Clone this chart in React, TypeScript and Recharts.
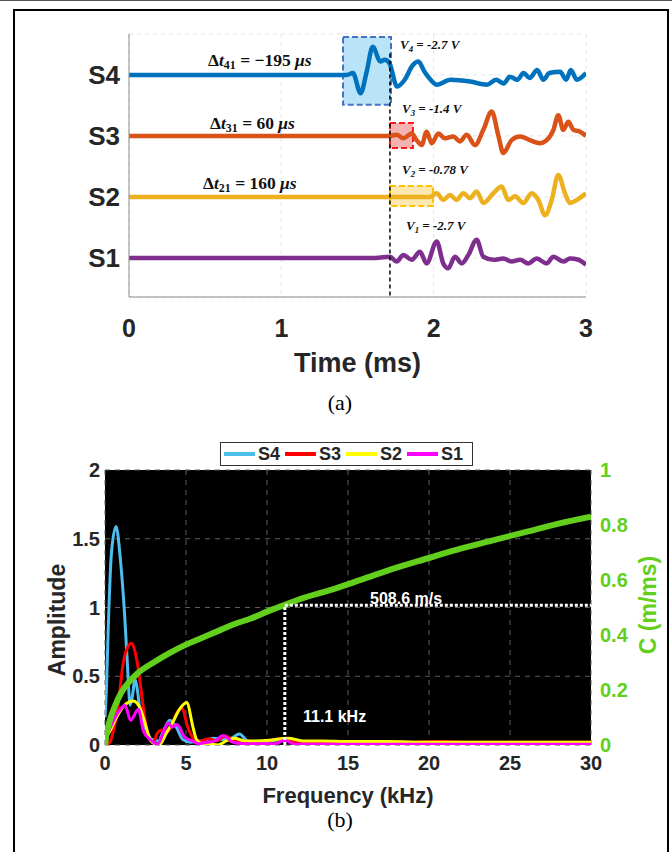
import React from "react";
import {
  CartesianGrid,
  ComposedChart,
  Label,
  Line,
  LineChart,
  ReferenceArea,
  ReferenceLine,
  XAxis,
  YAxis,
} from "recharts";

const SANS = "'Liberation Sans', Arial, sans-serif";
const SERIF = "'Liberation Serif', 'Times New Roman', serif";
const INK = "#262626";

// (a) sensor traces, time in ms, amplitude in trace-spacing units
const S4_T = [0, 1.43, 1.47, 1.52, 1.56, 1.6, 1.65, 1.68, 1.71, 1.76, 1.81, 1.86, 1.9, 1.94, 1.98, 2.02, 2.11, 2.24, 2.35, 2.41, 2.46, 2.5, 2.55, 2.59, 2.63, 2.68, 2.72, 2.76, 2.83, 2.87, 2.9, 2.94, 3.0];
const S4_V = [0, 0, 0.03, -0.3, 0.05, 0.46, 0.22, 0.25, 0.19, -0.19, -0.08, 0.15, 0.22, 0.05, -0.08, -0.16, -0.08, -0.11, -0.16, -0.08, -0.14, -0.03, -0.08, 0.03, -0.05, 0.08, -0.08, 0.03, 0.05, -0.08, 0.08, -0.08, 0.03];
const S3_T = [0, 1.713, 1.757, 1.801, 1.856, 1.888, 1.921, 1.954, 1.987, 2.031, 2.074, 2.129, 2.173, 2.217, 2.271, 2.326, 2.381, 2.425, 2.457, 2.512, 2.567, 2.632, 2.698, 2.742, 2.786, 2.818, 2.851, 2.884, 2.917, 2.961, 3.0];
const S3_V = [0, 0, 0.02, -0.04, 0.04, -0.07, -0.15, 0.07, -0.12, 0.04, -0.04, -0.01, -0.09, 0.02, -0.15, 0.1, 0.4, 0, -0.28, -0.07, -0.01, -0.07, -0.12, -0.07, 0.1, 0.34, 0.1, 0.23, 0.1, 0.07, 0];
const S2_T = [0, 1.976, 2.02, 2.063, 2.107, 2.151, 2.195, 2.239, 2.282, 2.326, 2.392, 2.446, 2.49, 2.534, 2.589, 2.643, 2.687, 2.731, 2.775, 2.818, 2.862, 2.895, 2.939, 3.0];
const S2_V = [0, 0, 0.06, -0.05, 0.03, -0.05, 0.06, -0.02, 0.09, -0.1, 0.06, 0.17, -0.05, 0.01, -0.1, 0.06, -0.05, -0.3, -0.05, 0.36, 0.06, -0.1, -0.05, 0.06];
const S1_T = [0, 1.62, 1.713, 1.757, 1.801, 1.856, 1.91, 1.954, 2.02, 2.063, 2.096, 2.14, 2.184, 2.228, 2.282, 2.326, 2.392, 2.457, 2.512, 2.567, 2.621, 2.676, 2.742, 2.786, 2.851, 2.895, 2.95, 3.0];
const S1_V = [0, 0, 0.02, -0.06, 0.05, -0.03, 0.1, -0.09, 0.27, -0.09, -0.17, 0.02, -0.09, 0.05, 0.3, 0.02, -0.03, -0.01, -0.06, -0.03, -0.09, -0.01, -0.09, 0.02, -0.06, -0.01, -0.03, -0.11];

const TIME_TICKS = [0, 1, 2, 3];
const TRACE_TICKS = [1, 2, 3, 4];
const TRACE_NAMES = ["S1", "S2", "S3", "S4"];
const ARRIVAL_T = 1.713;

// (b) spectra, frequency in kHz
const S4_F = [0, 0.1, 0.2, 0.4, 0.68, 0.95, 1.23, 1.4, 1.55, 1.7, 1.85, 2.0, 2.16, 2.57, 2.9, 3.3, 3.6, 4.0, 4.4, 4.8, 5.3, 6.0, 6.7, 7.3, 7.8, 8.3, 8.8, 9.5, 10.3, 11.0, 11.6, 12.5, 14, 16, 19, 23, 27, 30];
const S4_A = [0.2, 0.45, 0.85, 1.4, 1.59, 1.35, 0.91, 0.55, 0.29, 0.36, 0.48, 0.4, 0.25, 0.1, 0.04, 0.03, 0.1, 0.18, 0.13, 0.04, 0.02, 0.03, 0.05, 0.04, 0.05, 0.08, 0.03, 0.02, 0.03, 0.04, 0.03, 0.02, 0.02, 0.015, 0.01, 0.01, 0.01, 0.01];
const S3_F = [0, 0.3, 0.55, 0.82, 1.13, 1.4, 1.65, 1.85, 2.06, 2.37, 2.67, 3.0, 3.2, 3.5, 3.8, 4.1, 4.42, 4.73, 5.14, 5.45, 5.9, 6.4, 6.9, 7.4, 7.9, 8.5, 9.2, 10.0, 10.8, 11.5, 12.5, 14, 16, 18, 20.5, 23, 26, 30];
const S3_A = [0, 0.02, 0.12, 0.3, 0.6, 0.71, 0.74, 0.68, 0.55, 0.27, 0.06, 0.02, 0.08, 0.11, 0.09, 0.14, 0.23, 0.27, 0.12, 0.05, 0.03, 0.045, 0.03, 0.065, 0.04, 0.03, 0.025, 0.03, 0.045, 0.025, 0.02, 0.025, 0.02, 0.02, 0.025, 0.02, 0.02, 0.02];
const S2_F = [0, 0.3, 0.62, 1.13, 1.75, 2.16, 2.47, 2.78, 3.05, 3.35, 3.8, 4.2, 4.6, 5.04, 5.45, 5.65, 6.0, 6.5, 6.95, 7.5, 8.0, 8.6, 9.3, 10.2, 11.3, 12.2, 13.5, 15, 17.5, 20, 23, 26, 30];
const S2_A = [0.05, 0.1, 0.18, 0.28, 0.32, 0.27, 0.16, 0.04, 0.01, 0, 0.09, 0.17, 0.26, 0.31, 0.12, 0.04, 0.01, 0.01, 0, 0.03, 0.05, 0.03, 0.03, 0.035, 0.05, 0.03, 0.03, 0.025, 0.025, 0.02, 0.02, 0.02, 0.02];
const S1_F = [0, 0.3, 0.62, 0.95, 1.23, 1.58, 2.06, 2.37, 2.78, 3.25, 3.6, 3.9, 4.15, 4.45, 4.9, 5.4, 5.8, 6.3, 6.8, 7.3, 7.9, 8.5, 9.5, 10.5, 11.1, 11.7, 13, 15, 18, 22, 26, 30];
const S1_A = [0.04, 0.12, 0.2, 0.26, 0.29, 0.18, 0.26, 0.1, 0.04, 0.005, 0.09, 0.16, 0.13, 0.15, 0.06, 0.03, 0.01, 0.02, 0.03, 0.07, 0.02, 0.01, 0.01, 0.01, 0.035, 0.005, 0.005, 0.005, 0.005, 0.005, 0.005, 0.005];
// phase velocity C (m/ms)
const C_F = [0, 0.1, 0.3, 0.6, 1, 1.5, 2, 3, 4, 5, 6, 7, 8, 9, 10, 11.1, 12, 14, 16, 18, 20, 22, 24, 26, 28, 30];
const C_V = [0, 0.04, 0.09, 0.14, 0.19, 0.23, 0.26, 0.3, 0.335, 0.365, 0.39, 0.415, 0.44, 0.46, 0.485, 0.51, 0.53, 0.565, 0.605, 0.645, 0.68, 0.715, 0.745, 0.775, 0.805, 0.83];

const FREQ_TICKS = [0, 5, 10, 15, 20, 25, 30];
const AMP_TICKS = [0, 0.5, 1, 1.5, 2];
const C_TICKS = [0, 0.2, 0.4, 0.6, 0.8, 1];
const CUT_F = 11.1;
const CUT_C = 0.5086;

const GREEN = "#62cf1c";

const trace = (t: number[], v: number[], level: number) =>
  t.map((x, i) => ({ t: x, y: level + v[i] }));
const spec = (f: number[], a: number[]) => f.map((x, i) => ({ f: x, a: a[i] }));

const traces = [
  { name: "S4", color: "#0072bd", data: trace(S4_T, S4_V, 4) },
  { name: "S3", color: "#d95319", data: trace(S3_T, S3_V, 3) },
  { name: "S2", color: "#edb120", data: trace(S2_T, S2_V, 2) },
  { name: "S1", color: "#7e2f8e", data: trace(S1_T, S1_V, 1) },
];

const spectra = [
  { name: "S4", color: "#4dbeee", data: spec(S4_F, S4_A) },
  { name: "S3", color: "#ff0000", data: spec(S3_F, S3_A) },
  { name: "S2", color: "#ffff00", data: spec(S2_F, S2_A) },
  { name: "S1", color: "#ff00ff", data: spec(S1_F, S1_A) },
];
const speed = C_F.map((x, i) => ({ f: x, c: C_V[i] }));

function Txt({ x, y, children, style }: any) {
  return (
    <div
      style={{
        position: "absolute",
        left: x,
        top: y,
        transform: "translateY(-50%)",
        whiteSpace: "nowrap",
        lineHeight: 1,
        ...style,
      }}
    >
      {children}
    </div>
  );
}

function Rot({ x, y, children, style }: any) {
  return (
    <div
      style={{
        position: "absolute",
        left: x,
        top: y,
        transform: "translate(-50%, -50%) rotate(-90deg)",
        whiteSpace: "nowrap",
        lineHeight: 1,
        ...style,
      }}
    >
      {children}
    </div>
  );
}

const deltaStyle = { fontFamily: SERIF, fontWeight: 700, fontSize: 17.5, color: "#111" };
const voltStyle = { fontFamily: SERIF, fontWeight: 700, fontStyle: "italic", fontSize: 13, color: "#111" };
const subStyle = { fontSize: "0.68em", verticalAlign: "-0.3em" };

function Delta({ sub, value }: { sub: string; value: string }) {
  return (
    <span>
      Δ<i>t</i>
      <span style={subStyle}>{sub}</span> = {value} <i>μs</i>
    </span>
  );
}

function Volt({ sub, value }: { sub: string; value: string }) {
  return (
    <span>
      V<span style={subStyle}>{sub}</span> = {value} V
    </span>
  );
}

export default function App() {
  const tickA = { fontSize: 25, fontWeight: 700, fill: INK, fontFamily: SANS };
  const tickB = { fontSize: 20, fontWeight: 700, fill: INK, fontFamily: SANS };

  return (
    <div
      style={{
        position: "absolute",
        left: 0,
        top: 0,
        width: 672,
        height: 852,
        background: "#fff",
        overflow: "hidden",
      }}
    >
      <div style={{ position: "absolute", left: 0, top: 0, width: 672, height: 1, background: "#555" }} />
      <div
        style={{
          position: "absolute",
          left: 13,
          top: 9,
          width: 656,
          height: 900,
          border: "2px solid #000",
          boxSizing: "border-box",
        }}
      />

      {/* (a) time traces */}
      <div style={{ position: "absolute", left: 0, top: 0 }}>
        <LineChart width={600} height={380} margin={{ top: 34, right: 14, bottom: 3, left: 69 }}>
          <CartesianGrid stroke="#e4e4e4" strokeDasharray="4 4" />
          <XAxis
            type="number"
            dataKey="t"
            domain={[0, 3]}
            ticks={TIME_TICKS}
            allowDataOverflow
            tickLine={false}
            tickSize={6}
            tickMargin={16}
            axisLine={{ stroke: "#8c8c8c" }}
            tick={tickA}
            height={80}
          >
            <Label
              value="Time (ms)"
              position="insideBottom"
              offset={5}
              fontSize={27}
              fontWeight={700}
              fill={INK}
              fontFamily={SANS}
            />
          </XAxis>
          <YAxis
            type="number"
            domain={[0.36, 4.67]}
            ticks={TRACE_TICKS}
            allowDataOverflow
            tickFormatter={(v: number) => TRACE_NAMES[v - 1]}
            width={60}
            tickLine={false}
            tickSize={4}
            tickMargin={5}
            axisLine={{ stroke: "#8c8c8c" }}
            tick={{ ...tickA, fontSize: 26 }}
          />
          <ReferenceArea x1={1.405} x2={1.72} y1={3.51} y2={4.62} fill="#b9e3f6" fillOpacity={1} stroke="#4472c4" strokeWidth={2} strokeDasharray="6 3" />
          <ReferenceArea x1={ARRIVAL_T} x2={1.864} y1={2.8} y2={3.21} fill="#f4b3b3" fillOpacity={1} stroke="#ff1a1a" strokeWidth={2} strokeDasharray="6 3" />
          <ReferenceArea x1={ARRIVAL_T} x2={1.996} y1={1.85} y2={2.18} fill="#fde9b0" fillOpacity={1} stroke="#ffc000" strokeWidth={2} strokeDasharray="6 3" />
          {traces.map((s) => (
            <Line
              key={s.name}
              data={s.data}
              dataKey="y"
              type="monotone"
              stroke={s.color}
              strokeWidth={4.5}
              dot={false}
              isAnimationActive={false}
            />
          ))}
          <ReferenceLine
            segment={[
              { x: ARRIVAL_T, y: 4.35 },
              { x: ARRIVAL_T, y: 0.36 },
            ]}
            stroke="#000"
            strokeWidth={1.5}
            strokeDasharray="4 3"
          />
        </LineChart>
      </div>

      <Txt x={208} y={62} style={deltaStyle}><Delta sub="41" value="−195" /></Txt>
      <Txt x={210} y={125} style={deltaStyle}><Delta sub="31" value="60" /></Txt>
      <Txt x={203} y={185} style={deltaStyle}><Delta sub="21" value="160" /></Txt>
      <Txt x={400} y={46} style={voltStyle}><Volt sub="4" value="-2.7" /></Txt>
      <Txt x={402} y={110} style={voltStyle}><Volt sub="3" value="-1.4" /></Txt>
      <Txt x={402} y={171} style={voltStyle}><Volt sub="2" value="-0.78" /></Txt>
      <Txt x={406} y={227} style={voltStyle}><Volt sub="1" value="-2.7" /></Txt>

      <div style={{ position: "absolute", left: 300, width: 80, top: 390, textAlign: "center", fontFamily: SERIF, fontSize: 22, lineHeight: "26px" }}>
        (a)
      </div>

      {/* (b) spectra and phase velocity */}
      <div style={{ position: "absolute", left: 0, top: 440 }}>
        <ComposedChart width={672} height={412} margin={{ top: 30, right: 21, bottom: 47, left: 50 }}>
          <CartesianGrid yAxisId="amp" fill="#000" fillOpacity={1} stroke="#5f5f5f" strokeDasharray="5 5" />
          <XAxis
            type="number"
            dataKey="f"
            domain={[0, 30]}
            ticks={FREQ_TICKS}
            allowDataOverflow
            axisLine={false}
            tickLine={false}
            tickSize={0}
            tickMargin={11}
            tick={tickB}
            height={60}
          >
            <Label
              value="Frequency (kHz)"
              position="insideBottom"
              offset={2}
              fontSize={22}
              fontWeight={700}
              fill={INK}
              fontFamily={SANS}
            />
          </XAxis>
          <YAxis
            yAxisId="amp"
            type="number"
            domain={[0, 2]}
            ticks={AMP_TICKS}
            allowDataOverflow
            width={55}
            axisLine={false}
            tickLine={false}
            tickSize={0}
            tickMargin={5}
            tick={tickB}
          />
          <YAxis
            yAxisId="c"
            orientation="right"
            type="number"
            domain={[0, 1]}
            ticks={C_TICKS}
            allowDataOverflow
            width={60}
            axisLine={false}
            tickLine={false}
            tickSize={0}
            tickMargin={9}
            tick={{ ...tickB, fill: GREEN }}
          />
          {spectra.map((s) => (
            <Line
              key={s.name}
              yAxisId="amp"
              data={s.data}
              dataKey="a"
              type="monotone"
              stroke={s.color}
              strokeWidth={3}
              dot={false}
              isAnimationActive={false}
            />
          ))}
          <Line
            yAxisId="c"
            data={speed}
            dataKey="c"
            type="monotone"
            stroke={GREEN}
            strokeWidth={6}
            dot={false}
            isAnimationActive={false}
          />
          <ReferenceLine
            yAxisId="c"
            segment={[
              { x: CUT_F, y: CUT_C },
              { x: 30, y: CUT_C },
            ]}
            stroke="#fff"
            strokeWidth={3}
            strokeDasharray="3 2"
          />
          <ReferenceLine
            yAxisId="c"
            segment={[
              { x: CUT_F, y: 0 },
              { x: CUT_F, y: CUT_C },
            ]}
            stroke="#fff"
            strokeWidth={3}
            strokeDasharray="3 2"
          />
        </ComposedChart>
      </div>

      <Txt x={370} y={599} style={{ fontFamily: SANS, fontWeight: 700, fontSize: 16, color: "#fff" }}>508.6 m/s</Txt>
      <Txt x={303} y={717} style={{ fontFamily: SANS, fontWeight: 700, fontSize: 16, color: "#fff" }}>11.1 kHz</Txt>

      <Rot x={57} y={620} style={{ fontFamily: SANS, fontWeight: 700, fontSize: 23, color: INK }}>Amplitude</Rot>
      <Rot x={648} y={605} style={{ fontFamily: SANS, fontWeight: 700, fontSize: 23, color: GREEN }}>C (m/ms)</Rot>

      {/* legend */}
      <div
        style={{
          position: "absolute",
          left: 220,
          top: 442,
          width: 253,
          height: 24,
          boxSizing: "border-box",
          border: "1px solid #333",
          background: "#fff",
          display: "flex",
          alignItems: "center",
          paddingLeft: 3,
          fontFamily: SANS,
          fontWeight: 700,
          fontSize: 18,
          color: INK,
        }}
      >
        {spectra.map((s) => (
          <div key={s.name} style={{ display: "flex", alignItems: "center", marginRight: 5 }}>
            <div style={{ width: 31, height: 4, background: s.color, marginRight: 3 }} />
            <span style={{ lineHeight: 1 }}>{s.name}</span>
          </div>
        ))}
      </div>

      <div style={{ position: "absolute", left: 300, width: 80, top: 807, textAlign: "center", fontFamily: SERIF, fontSize: 22, lineHeight: "26px" }}>
        (b)
      </div>
    </div>
  );
}
